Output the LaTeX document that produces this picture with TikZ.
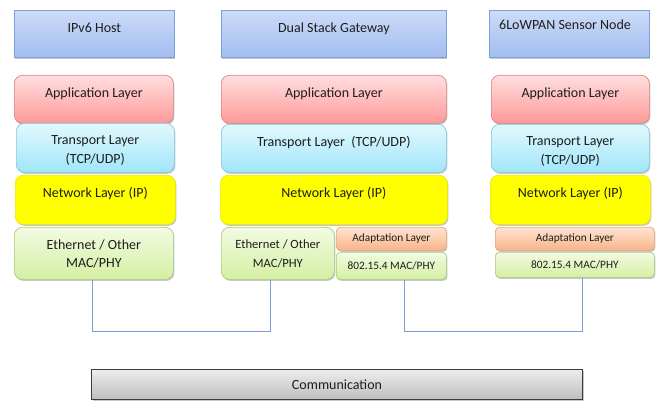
\documentclass[tikz,border=0pt]{standalone}
\usepackage{fontspec}
\setmainfont{Carlito}
\usetikzlibrary{shadows}
\definecolor{hdrB}{HTML}{7EA0D8}
\definecolor{hdrT}{HTML}{CCDBF8}
\definecolor{hdrL}{HTML}{A2BDF0}
\definecolor{appB}{HTML}{D98484}
\definecolor{appT}{HTML}{FFDEDE}
\definecolor{appL}{HTML}{FF9999}
\definecolor{trnB}{HTML}{84C8E0}
\definecolor{trnT}{HTML}{E2F8FD}
\definecolor{trnL}{HTML}{A0E6FA}
\definecolor{netB}{HTML}{EAEA00}
\definecolor{netF}{HTML}{FFFF00}
\definecolor{ethB}{HTML}{A8CC80}
\definecolor{ethT}{HTML}{F3FBE2}
\definecolor{ethL}{HTML}{D4EFA2}
\definecolor{adaB}{HTML}{E6A674}
\definecolor{adaT}{HTML}{FDE4D2}
\definecolor{adaL}{HTML}{F8B488}
\definecolor{comB}{HTML}{3C3C3C}
\definecolor{comT}{HTML}{EDEDED}
\definecolor{comL}{HTML}{BEBEBE}
\definecolor{linkC}{HTML}{7A9ED6}
\definecolor{txtC}{HTML}{1E1E1E}
\begin{document}
\begin{tikzpicture}[x=1pt,y=-1pt,
  box/.style 2 args={anchor=north west, minimum width=#1, minimum height=#2, inner sep=0pt, text=txtC},
  shad/.style={drop shadow={shadow xshift=1pt, shadow yshift=-1.5pt, opacity=0.22, fill=black}},
  hdr/.style={shad, draw=hdrB, line width=0.8pt, top color=hdrT, bottom color=hdrL},
  app/.style={shad, rounded corners=8pt, draw=appB, line width=0.7pt, top color=appT, bottom color=appL},
  trn/.style={shad, rounded corners=8pt, draw=trnB, line width=0.7pt, top color=trnT, bottom color=trnL},
  net/.style={shad, rounded corners=8pt, draw=netB, line width=0.7pt, fill=netF},
  eth/.style={shad, rounded corners=8pt, draw=ethB, line width=0.7pt, top color=ethT, bottom color=ethL},
  ada/.style={shad, rounded corners=4pt, draw=adaB, line width=0.7pt, top color=adaT, bottom color=adaL},
  e8/.style={shad, rounded corners=4pt, draw=ethB, line width=0.7pt, top color=ethT, bottom color=ethL},
  com/.style={shad, draw=comB, line width=1pt, top color=comT, bottom color=comL},
  txt/.style={anchor=north, yshift=-12.5pt, inner sep=0pt, align=center, text=txtC, font=\fontsize{14}{18.5}\selectfont},
  stxt/.style={txt, font=\fontsize{12.6}{19}\selectfont},
  small/.style={font=\fontsize{11.3}{13}\selectfont},
  link/.style={draw=linkC, line width=0.8pt}
]
\useasboundingbox (0,0) rectangle (659,401);

% column 1: IPv6 Host
\node[hdr, box={160}{47}, label={[txt]north:IPv6 Host}] (h1) at (14,10) {};
\node[app, box={159}{48}, label={[txt]north:Application Layer}] (a1) at (14,75) {};
\node[trn, box={158}{49}, label={[txt]north:Transport Layer\\(TCP/UDP)}] (t1) at (16,123) {};
\node[net, box={160}{49}, label={[txt]north:Network Layer (IP)}] (n1) at (15,175) {};
\node[eth, box={159}{52}, label={[txt]north:Ethernet / Other\\MAC/PHY}] (e1) at (14,227) {};

% column 2: Dual Stack Gateway
\node[hdr, box={225}{47}, label={[txt]north:Dual Stack Gateway}] (h2) at (221,10) {};
\node[app, box={225}{48}, label={[txt]north:Application Layer}] (a2) at (221,75) {};
\node[trn, box={225}{48}, label={[txt]north:Transport Layer\ \ (TCP/UDP)}] (t2) at (221,124) {};
\node[net, box={227}{49}, label={[txt]north:Network Layer (IP)}] (n2) at (220,175) {};
\node[eth, box={113}{52}, label={[stxt]north:Ethernet / Other\\MAC/PHY}] (e2) at (221,227) {};
\node[ada, box={110}{23}, small] (d2) at (336,227) {Adaptation\ Layer};
\node[e8, box={110}{27}, small] (m2) at (336,252) {802.15.4 MAC/PHY};

% column 3: 6LoWPAN Sensor Node
\node[hdr, box={160}{47}, label={[txt, anchor=north west, xshift=10pt, yshift=3pt]north west:6LoWPAN Sensor Node}] (h3) at (489,10) {};
\node[app, box={158}{48}, label={[txt]north:Application Layer}] (a3) at (491,75) {};
\node[trn, box={158}{48}, label={[txt]north:Transport Layer\\(TCP/UDP)}] (t3) at (491,124) {};
\node[net, box={160}{49}, label={[txt]north:Network Layer (IP)}] (n3) at (490,175) {};
\node[ada, box={159}{23}, small] (d3) at (495,227) {Adaptation\ Layer};
\node[e8, box={159}{25}, small] (m3) at (495,252) {802.15.4 MAC/PHY};

% communication bar
\node[com, box={491}{30}, font=\fontsize{14}{16}\selectfont] (com) at (91,369) {Communication};

% links
\draw[link] ([xshift=-1.5pt]e1.south) -- ++(0,52) -| ([xshift=-7.5pt]e2.south);
\draw[link] ([xshift=13pt]m2.south) -- ++(0,52) -| ([xshift=8pt]m3.south);
\end{tikzpicture}
\end{document}
